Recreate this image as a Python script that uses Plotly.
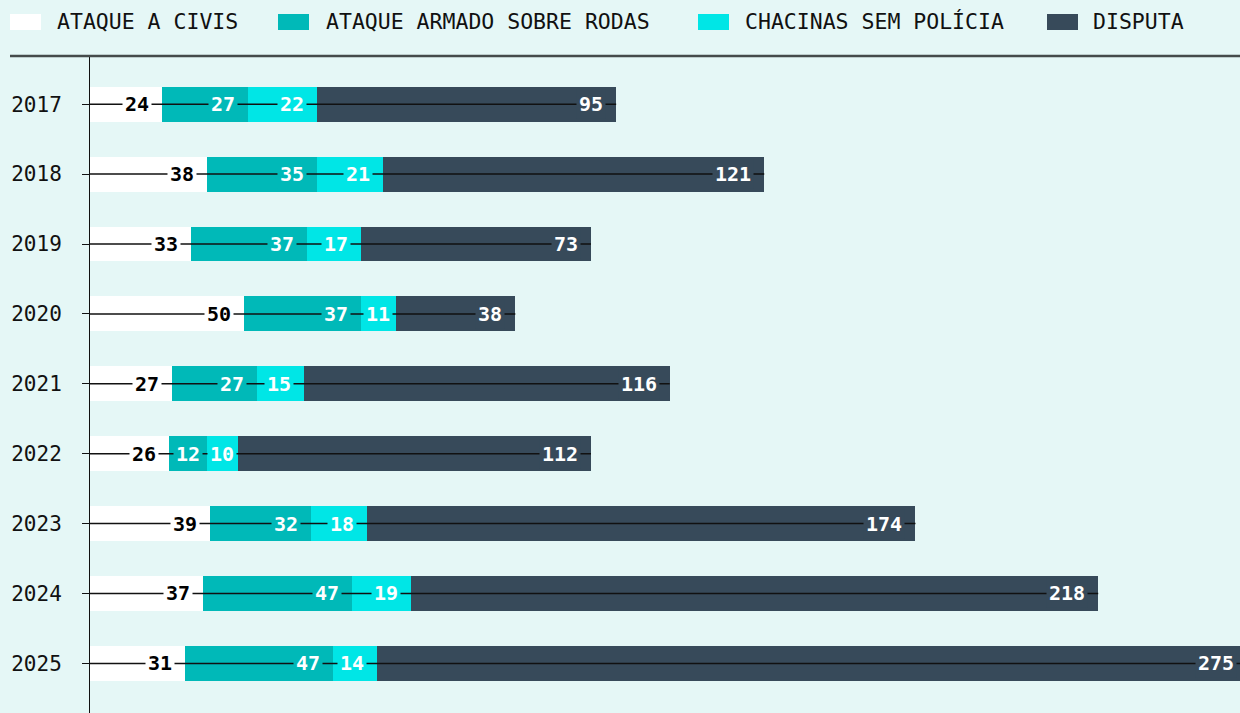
import plotly.graph_objects as go

years = ["2017", "2018", "2019", "2020", "2021", "2022", "2023", "2024", "2025"]
ataque_civis = [24, 38, 33, 50, 27, 26, 39, 37, 31]
ataque_rodas = [27, 35, 37, 37, 27, 12, 32, 47, 47]
chacinas = [22, 21, 17, 11, 15, 10, 18, 19, 14]
disputa = [95, 121, 73, 38, 116, 112, 174, 218, 275]

series_names = ["ATAQUE A CIVIS", "ATAQUE ARMADO SOBRE RODAS", "CHACINAS SEM POLÍCIA", "DISPUTA"]
series_values = [ataque_civis, ataque_rodas, chacinas, disputa]
colors = ["#ffffff", "#00b9b8", "#00e6e6", "#374a5a"]
label_colors = ["#000000", "#ffffff", "#ffffff", "#ffffff"]

BG = "#e5f7f6"
MONO = "DejaVu Sans Mono"
W, H = 1240, 713
ML, MT = 90, 56
X_RANGE = [1, 366]

fig = go.Figure()

for name, vals, col in zip(series_names, series_values, colors):
    fig.add_trace(go.Bar(
        y=years, x=vals, name=name, orientation="h",
        marker=dict(color=col, line=dict(width=0)),
        width=0.5, hoverinfo="skip", showlegend=False,
    ))

totals = [sum(v) for v in zip(*series_values)]

# thin row lines drawn over bars
for yr, tot in zip(years, totals):
    fig.add_trace(go.Scatter(
        x=[0, tot], y=[yr, yr], mode="lines",
        line=dict(color="#111111", width=1.5),
        hoverinfo="skip", showlegend=False,
    ))

pw = W - ML
ph = H - MT
px_per_unit = pw / (X_RANGE[1] - X_RANGE[0])

annotations = []
for i, yr in enumerate(years):
    cum = 0
    for vals, col, lc in zip(series_values, colors, label_colors):
        v = vals[i]
        cum += v
        txt = str(v)
        text_w = len(txt) * 12.4 + 4
        seg_px = v * px_per_unit
        if cum > X_RANGE[1]:
            pos = dict(x=X_RANGE[1], xanchor="right", xshift=-3)
        elif seg_px >= text_w + 14:
            pos = dict(x=cum, xanchor="right", xshift=-10)
        else:
            pos = dict(x=cum - v / 2, xanchor="center", xshift=0)
        annotations.append(dict(
            y=i, xref="x", yref="y",
            text=f"<b>{txt}</b>", showarrow=False,
            yanchor="middle",
            bgcolor=col, borderpad=2,
            font=dict(family=MONO, size=20, color=lc),
            **pos,
        ))

# custom legend
legend_sq_px = [10, 278, 698, 1047]
legend_tx_px = [55, 324, 743, 1091]
shapes = []
for name, col, sx, tx in zip(series_names, colors, legend_sq_px, legend_tx_px):
    shapes.append(dict(
        type="rect", xref="paper", yref="paper",
        x0=(sx - ML) / pw, x1=(sx + 31 - ML) / pw,
        y0=1 + (MT - 30) / ph, y1=1 + (MT - 14) / ph,
        fillcolor=col, line=dict(width=0), layer="above",
    ))
    annotations.append(dict(
        x=(tx - ML) / pw, y=1 + (MT - 22) / ph, xref="paper", yref="paper",
        text=name, showarrow=False, xanchor="left", yanchor="middle",
        font=dict(family=MONO, size=21.5, color="#111111"),
    ))

shapes.append(dict(
    type="line", xref="paper", yref="paper",
    x0=(10 - ML) / pw, x1=1, y0=1, y1=1,
    line=dict(color="#454b4b", width=2.5), layer="above",
))

fig.update_layout(
    barmode="stack",
    width=W, height=H,
    margin=dict(l=ML, r=0, t=MT, b=0),
    paper_bgcolor=BG, plot_bgcolor=BG,
    annotations=annotations, shapes=shapes,
    showlegend=False,
    xaxis=dict(range=X_RANGE, visible=False, showgrid=False, zeroline=False),
    yaxis=dict(
        type="category", range=[8.71, -0.69],
        showline=True, linecolor="#111111", linewidth=1,
        ticks="outside", ticklen=7, tickcolor="#111111", tickwidth=1,
        showgrid=False, zeroline=False,
        tickfont=dict(family=MONO, size=21, color="#111111"),
        ticklabelstandoff=16,
    ),
)

fig.write_html(
    "out.html",
    config={"displayModeBar": False},
    post_script="document.body.style.margin='0';document.body.style.background='" + BG + "';",
)
